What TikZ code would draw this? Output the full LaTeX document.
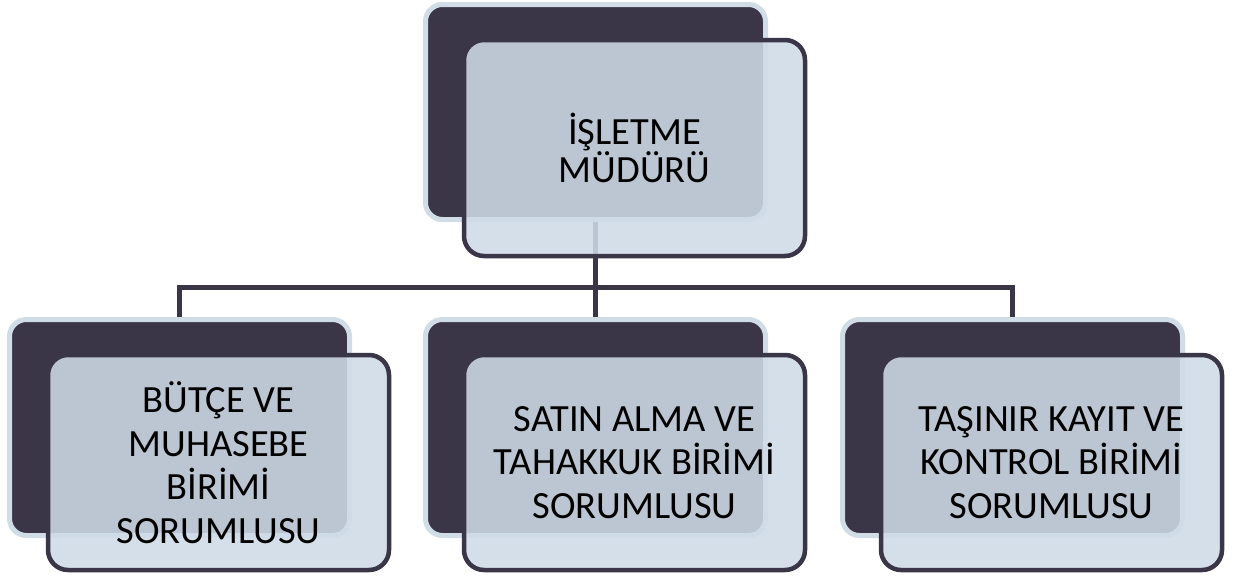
\documentclass[tikz,border=0pt]{standalone}
\usepackage{fontspec}
\setmainfont{Carlito}
\definecolor{darkbox}{HTML}{3A3547}
\definecolor{lightrim}{HTML}{D0DCE6}
\definecolor{frontfill}{HTML}{CFDBE6}
\tikzset{
  backbox/.style={draw=lightrim, line width=5pt, fill=darkbox, rounded corners=17pt,
    minimum width=340pt, minimum height=216pt, inner sep=0pt, outer sep=2.5pt},
  frontbox/.style={draw=darkbox, line width=4.5pt, fill=frontfill, fill opacity=0.88, text opacity=1,
    rounded corners=20pt, minimum width=341pt, minimum height=215pt, inner sep=0pt, outer sep=0pt,
    align=center, text=black},
  conn/.style={draw=darkbox, line width=5pt},
  toptext/.style={font=\fontsize{38.5}{38}\selectfont},
  bottext/.style={font=\fontsize{38.5}{43.5}\selectfont}
}
\begin{document}
\begin{tikzpicture}[x=1pt,y=-1pt]
\useasboundingbox (0,0) rectangle (1240,576);
% back boxes
\node[backbox, minimum height=215pt] (backT) at (595.5,112) {};
\node[backbox] (backL) at (179.5,427.5) {};
\node[backbox] (backM) at (595.5,427.5) {};
\node[backbox] (backR) at (1012.5,427.5) {};
% connectors
\coordinate (hub) at (595.5,287);
\coordinate (hubL) at (179.5,287);
\coordinate (hubR) at (1012.5,287);
\draw[conn] (backT.south) -- (hub);
\draw[conn] ([xshift=-2.5pt]hubL) -- ([xshift=2.5pt]hubR);
\draw[conn] (hubL) -- (backL.north);
\draw[conn] (hub) -- (backM.north);
\draw[conn] (hubR) -- (backR.north);
% front boxes
\node[frontbox, minimum height=216pt, toptext] (frontT) at (634.5,148) {İŞLETME\\MÜDÜRÜ};
\node[frontbox, bottext] (frontL) at (218.5,462.5) {BÜTÇE VE\\MUHASEBE\\BİRİMİ\\SORUMLUSU};
\node[frontbox, bottext] (frontM) at (634.5,462.5) {SATIN ALMA VE\\TAHAKKUK BİRİMİ\\SORUMLUSU};
\node[frontbox, bottext] (frontR) at (1051.5,462.5) {TAŞINIR KAYIT VE\\KONTROL BİRİMİ\\SORUMLUSU};
\end{tikzpicture}
\end{document}
